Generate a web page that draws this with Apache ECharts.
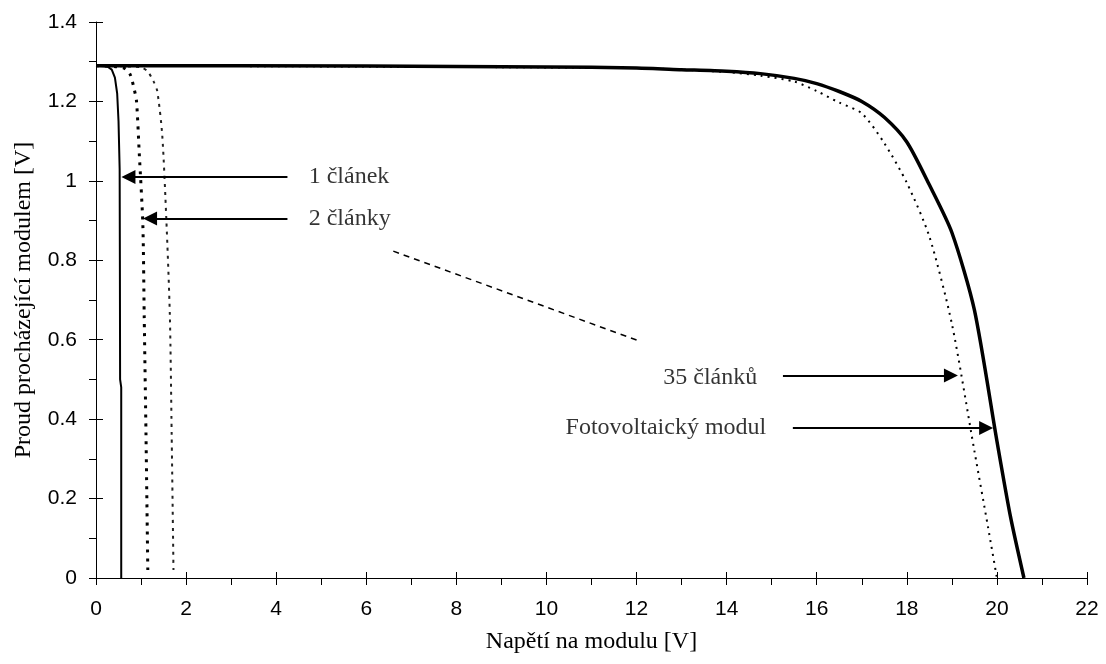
<!DOCTYPE html>
<html>
<head>
<meta charset="utf-8">
<script src="https://cdn.jsdelivr.net/npm/echarts@6/dist/echarts.min.js"></script>
<style>html,body{margin:0;padding:0;background:#fff}#c{width:1106px;height:664px}</style>
</head>
<body>
<div id="c"></div>
<script>
// Axis / tick definitions
const xTicksMin = 0, xTicksMax = 22, xTicksStep = 2;
const yTicksMin = 0, yTicksMax = 1.4, yTicksStep = 0.2;

// Fotovoltaický modul (thick solid)
const moduleV = [0, 6, 10, 12, 13, 14, 14.75, 15.5, 16, 16.5, 17, 17.5, 18, 18.5, 19, 19.5, 20, 20.3, 20.6];
const moduleI = [1.29, 1.289, 1.287, 1.284, 1.28, 1.276, 1.27, 1.258, 1.245, 1.225, 1.2, 1.16, 1.098, 0.99, 0.87, 0.675, 0.345, 0.155, 0];

// 35 článků (dotted)
const cells35V = [0, 12, 14, 14.75, 15.5, 16, 16.5, 17, 17.5, 18, 18.5, 19, 19.5, 19.8, 20.0];
const cells35I = [1.29, 1.284, 1.274, 1.265, 1.25, 1.226, 1.197, 1.17, 1.095, 0.995, 0.86, 0.64, 0.32, 0.13, 0];

// 1 článek (solid thin)
const cell1V = [0, 0.25, 0.35, 0.42, 0.47, 0.5, 0.525, 0.53, 0.535, 0.56, 0.56];
const cell1I = [1.29, 1.288, 1.28, 1.26, 1.22, 1.15, 1.03, 0.8, 0.5, 0.48, 0];

// 2 články (dotted)
const cells2V = [0, 0.6, 0.75, 0.85, 0.9, 0.96, 1.04, 1.07, 1.11, 1.15];
const cells2I = [1.29, 1.285, 1.27, 1.23, 1.2, 1.07, 0.89, 0.66, 0.36, 0.02];

// 3 články (dashed / dotted, unlabeled)
const cells3V = [0, 1.0, 1.15, 1.28, 1.36, 1.47, 1.56, 1.64, 1.68, 1.72];
const cells3I = [1.29, 1.286, 1.275, 1.25, 1.226, 1.116, 0.907, 0.659, 0.36, 0.02];

// stray dashed stroke in the picture
const strayV = [6.6, 12.1];
const strayI = [0.823, 0.595];

// annotation texts and positions (V, I)
const labelTexts = ['1 článek', '2 články', '35 článků', 'Fotovoltaický modul'];
const labelV = [4.71, 4.71, 14.69, 14.89];
const labelI = [1.01, 0.905, 0.505, 0.378];
const labelSide = ['right', 'right', 'left', 'left'];
// arrows: start V, end V, I
const arrowFromV = [4.25, 4.25, 15.25, 15.47];
const arrowToV = [0.72, 1.2, 18.98, 19.76];
const arrowI = [1.01, 0.905, 0.51, 0.378];

const zip = (a, b) => a.map((v, i) => [v, b[i]]);

const chart = echarts.init(document.getElementById('c'), null, {renderer: 'canvas'});

const tickFont = {fontFamily: '"Liberation Sans", Arial, sans-serif', fontSize: 21, color: '#000'};
const serif = '"Liberation Serif", "Times New Roman", serif';

const lineBase = {type: 'line', symbol: 'none', showSymbol: false, animation: false, silent: true,
  smooth: 0.25};

const option = {
  backgroundColor: '#fff',
  animation: false,
  grid: {left: 96, right: 19, top: 22, bottom: 86, containLabel: false},
  xAxis: [{
    type: 'value', min: xTicksMin, max: xTicksMax, interval: xTicksStep, position: 'bottom',
    name: 'Napětí na modulu [V]', nameLocation: 'middle', nameGap: 52,
    nameTextStyle: {fontFamily: serif, fontSize: 24, color: '#000'},
    axisLine: {show: true, lineStyle: {color: '#000', width: 1}},
    axisTick: {show: true, inside: false, length: 7, lineStyle: {color: '#000'}},
    minorTick: {show: true, splitNumber: 2, length: 7, lineStyle: {color: '#000'}},
    axisLabel: Object.assign({margin: 21}, tickFont),
    splitLine: {show: false}
  }, {
    type: 'value', min: xTicksMin, max: xTicksMax, interval: xTicksStep, position: 'bottom',
    axisLine: {show: false},
    axisTick: {show: true, inside: true, length: 6, lineStyle: {color: '#000'}},
    axisLabel: {show: false}, splitLine: {show: false}
  }],
  yAxis: [{
    type: 'value', min: yTicksMin, max: yTicksMax, interval: yTicksStep, position: 'left',
    name: 'Proud procházející modulem [V]', nameLocation: 'middle', nameGap: 60, nameRotate: 90,
    nameTextStyle: {fontFamily: serif, fontSize: 24, color: '#000'},
    axisLine: {show: true, lineStyle: {color: '#000', width: 1}},
    axisTick: {show: true, inside: false, length: 7, lineStyle: {color: '#000'}},
    minorTick: {show: true, splitNumber: 2, length: 7, lineStyle: {color: '#000'}},
    axisLabel: Object.assign({margin: 19}, tickFont),
    splitLine: {show: false}
  }, {
    type: 'value', min: yTicksMin, max: yTicksMax, interval: yTicksStep, position: 'left',
    axisLine: {show: false},
    axisTick: {show: true, inside: true, length: 7, lineStyle: {color: '#000'}},
    axisLabel: {show: false}, splitLine: {show: false}
  }],
  series: [
    Object.assign({}, lineBase, {name: '3 články', data: zip(cells3V, cells3I), z: 3,
      lineStyle: {color: '#222', width: 2, type: [3, 5]}}),
    Object.assign({}, lineBase, {name: '2 články', data: zip(cells2V, cells2I), z: 3,
      lineStyle: {color: '#000', width: 3, type: [3, 6]}}),
    Object.assign({}, lineBase, {name: '1 článek', smooth: false, data: zip(cell1V, cell1I), z: 4,
      lineStyle: {color: '#000', width: 2, type: 'solid'}}),
    Object.assign({}, lineBase, {name: '35 článků', data: zip(cells35V, cells35I), z: 3,
      lineStyle: {color: '#000', width: 2, type: [2, 5]}}),
    Object.assign({}, lineBase, {name: 'stray', smooth: false, data: zip(strayV, strayI), z: 2,
      lineStyle: {color: '#000', width: 1.5, type: [6, 5]}}),
    Object.assign({}, lineBase, {name: 'Fotovoltaický modul', data: zip(moduleV, moduleI), z: 5,
      lineStyle: {color: '#000', width: 3.5, type: 'solid'},
      markLine: {
        silent: true, animation: false,
        symbol: ['none', 'triangle'], symbolSize: 14,
        label: {show: false},
        lineStyle: {color: '#000', width: 2.2, type: 'solid'},
        emphasis: {disabled: true},
        data: arrowFromV.map((v, i) => [{coord: [v, arrowI[i]]}, {coord: [arrowToV[i], arrowI[i]]}])
      }}),
    {
      type: 'scatter', name: 'labels', animation: false, silent: true, z: 6,
      symbol: 'circle', symbolSize: 1, itemStyle: {color: 'rgba(0,0,0,0)'},
      data: labelTexts.map((t, i) => ({
        value: [labelV[i], labelI[i]],
        label: {show: true, position: labelSide[i], distance: 0, formatter: t,
          fontFamily: serif, fontSize: 24, color: '#000'}
      }))
    }
  ]
};
chart.setOption(option);
</script>
</body>
</html>
